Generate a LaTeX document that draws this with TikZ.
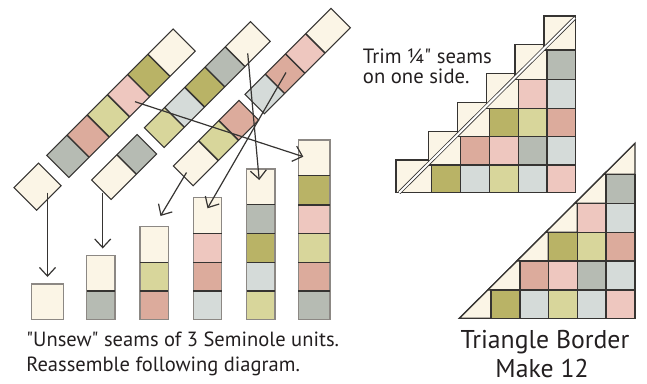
\documentclass[tikz,border=0pt]{standalone}
\usepackage{fontspec}
\setmainfont{PT Sans}[Ligatures=TeXOff]
\usetikzlibrary{arrows.meta}
\definecolor{qcream}{HTML}{FBF5E6}
\definecolor{qolive}{HTML}{B9B366}
\definecolor{qlolive}{HTML}{D8D69B}
\definecolor{qpink}{HTML}{EEC7BF}
\definecolor{qrose}{HTML}{DCAB9C}
\definecolor{qgray}{HTML}{B6BBB3}
\definecolor{qlbg}{HTML}{D5DBD9}
\definecolor{qink}{HTML}{363432}
\definecolor{qedge}{HTML}{8C8884}
\definecolor{qtext}{HTML}{231F20}
\newcommand\qq[3]{(#1,0) -- (#2,0) -- (#2,#3) -- (#1,#3) -- cycle}
\tikzset{
  along/.style={x={(0.5303pt,0.5303pt)},y={(0.5303pt,-0.5303pt)}},
  stripline/.style={draw=qink,line width=0.8pt,line join=miter},
  divline/.style={draw=qink,line width=1.1pt},
  colline/.style={draw=qedge,line width=1.1pt},
  gridcell/.style={draw=qink,line width=1pt},
  arr/.style={draw=qink,line width=0.9pt,-{Straight Barb[length=6.5pt,width=12pt]}},
  txt/.style={inner sep=0pt,anchor=base west,text=qtext},
  txtc/.style={inner sep=0pt,anchor=base,text=qtext},
}
\begin{document}
\begin{tikzpicture}[x=0.75pt,y=-0.75pt]
\useasboundingbox (0,0) rectangle (647,383);

% ---------- diagonal strips ----------
% strip 1 (six units)
\begin{scope}[shift={(46.7,155.3)}]\begin{scope}[along]
\fill[qgray] \qq{0}{28.6}{31.3};
\fill[qrose] \qq{28.6}{57.2}{31.3};
\fill[qlolive] \qq{57.2}{85.8}{31.3};
\fill[qpink] \qq{85.8}{114.4}{31.3};
\fill[qolive] \qq{114.4}{143}{31.3};
\fill[qcream] \qq{143}{178.7}{31.3};
\draw[stripline] \qq{0}{178.7}{31.3};
\foreach \a in {28.6,57.2,85.8,114.4,143} \draw[divline] (\a,0) -- (\a,31.3);
\end{scope}\end{scope}
% strip 2 (five units)
\begin{scope}[shift={(144.3,127.7)}]\begin{scope}[along]
\fill[qlolive] \qq{0}{28.6}{28};
\fill[qlbg] \qq{28.6}{57.2}{28};
\fill[qolive] \qq{57.2}{85.8}{28};
\fill[qgray] \qq{85.8}{114.4}{28};
\fill[qcream] \qq{114.4}{150.1}{28};
\draw[stripline] \qq{0}{150.1}{28};
\foreach \a in {28.6,57.2,85.8,114.4} \draw[divline] (\a,0) -- (\a,28);
\end{scope}\end{scope}
% strip 3 (three units)
\begin{scope}[shift={(173.3,166)}]\begin{scope}[along]
\fill[qcream] \qq{0}{35.7}{28};
\fill[qlolive] \qq{35.7}{64.3}{28};
\fill[qrose] \qq{64.3}{92.9}{28};
\draw[stripline] \qq{0}{92.9}{28};
\foreach \a in {35.7,64.3} \draw[divline] (\a,0) -- (\a,28);
\end{scope}\end{scope}
% strip 4 (four units)
\begin{scope}[shift={(245,94.3)}]\begin{scope}[along]
\fill[qlbg] \qq{0}{28.6}{27.5};
\fill[qrose] \qq{28.6}{57.2}{27.5};
\fill[qpink] \qq{57.2}{85.8}{27.5};
\fill[qcream] \qq{85.8}{121.5}{27.5};
\draw[stripline] \qq{0}{121.5}{27.5};
\foreach \a in {28.6,57.2,85.8} \draw[divline] (\a,0) -- (\a,27.5);
\end{scope}\end{scope}
% strip 5 (two units)
\begin{scope}[shift={(91.7,180)}]\begin{scope}[along]
\fill[qcream] \qq{0}{35.7}{27.5};
\fill[qgray] \qq{35.7}{64.3}{27.5};
\draw[stripline] \qq{0}{64.3}{27.5};
\draw[divline] (35.7,0) -- (35.7,27.5);
\end{scope}\end{scope}
% strip 6 (one unit)
\begin{scope}[shift={(14,187.5)}]\begin{scope}[along]
\fill[qcream] \qq{0}{34.5}{32};
\draw[stripline] \qq{0}{34.5}{32};
\end{scope}\end{scope}

% ---------- columns ----------
% C1
\fill[qcream] (31.7,284) rectangle (63.3,319.3);
\draw[colline] (31.7,284) rectangle (63.3,319.3);
% C2
\fill[qcream] (86.7,255.7) rectangle (115,291);
\fill[qgray] (86.7,291) rectangle (115,319.3);
\draw[colline] (86.7,255.7) rectangle (115,319.3);
\draw[divline] (86.7,291) -- (115,291);
% C3
\fill[qcream] (140,226.7) rectangle (168.3,262.3);
\fill[qlolive] (140,262.3) rectangle (168.3,291);
\fill[qrose] (140,291) rectangle (168.3,319.3);
\draw[colline] (140,226.7) rectangle (168.3,319.3);
\foreach \b in {262.3,291} \draw[divline] (140,\b) -- (168.3,\b);
% C4
\fill[qcream] (193.3,197.7) rectangle (221.7,233.3);
\fill[qpink] (193.3,233.3) rectangle (221.7,262.3);
\fill[qrose] (193.3,262.3) rectangle (221.7,291);
\fill[qlbg] (193.3,291) rectangle (221.7,319.3);
\draw[colline] (193.3,197.7) rectangle (221.7,319.3);
\foreach \b in {233.3,262.3,291} \draw[divline] (193.3,\b) -- (221.7,\b);
% C5
\fill[qcream] (246.7,169) rectangle (275,204.5);
\fill[qgray] (246.7,204.5) rectangle (275,233.3);
\fill[qolive] (246.7,233.3) rectangle (275,262.3);
\fill[qlbg] (246.7,262.3) rectangle (275,291);
\fill[qlolive] (246.7,291) rectangle (275,319.3);
\draw[colline] (246.7,169) rectangle (275,319.3);
\foreach \b in {204.5,233.3,262.3,291} \draw[divline] (246.7,\b) -- (275,\b);
% C6
\fill[qcream] (298.3,140) rectangle (330,175.7);
\fill[qolive] (298.3,175.7) rectangle (330,204.8);
\fill[qpink] (298.3,204.8) rectangle (330,233.3);
\fill[qlolive] (298.3,233.3) rectangle (330,262.3);
\fill[qrose] (298.3,262.3) rectangle (330,291);
\fill[qgray] (298.3,291) rectangle (330,319.3);
\draw[colline] (298.3,140) rectangle (330,319.3);
\foreach \b in {175.7,204.8,233.3,262.3,291} \draw[divline] (298.3,\b) -- (330,\b);

% ---------- arrows ----------
\coordinate (a1s) at (47.5,192.5);  \coordinate (a1e) at (47.5,277);
\coordinate (a2s) at (102.7,192.5); \coordinate (a2e) at (102.7,248.5);
\coordinate (a3s) at (186.5,172.5); \coordinate (a3e) at (160.5,216);
\coordinate (a4s) at (286,72.5);    \coordinate (a4e) at (207.5,208.3);
\coordinate (a5s) at (247.7,53.3);  \coordinate (a5e) at (259.2,180);
\coordinate (a6s) at (135,101.7);   \coordinate (a6e) at (303.3,156.7);
\draw[arr] (a1s) -- (a1e);
\draw[arr] (a2s) -- (a2e);
\draw[arr] (a3s) -- (a3e);
\draw[arr] (a4s) -- (a4e);
\draw[arr] (a5s) -- (a5e);
\draw[arr] (a6s) -- (a6e);

% ---------- upper triangle (before trimming) ----------
\foreach \x/\y/\X/\Y in {396/160/431.7/192.7, 428.3/131.7/460.7/165, 457.3/102.7/489.3/136.7, 486.7/73.3/518.3/108.3, 515/44.3/547/79.3, 544/16/575.7/50}
  \filldraw[fill=qcream,draw=qink,line width=0.8pt] (\x,\y) rectangle (\X,\Y);
\foreach \x/\X/\c in {431.7/460.7/qolive, 460.7/489.3/qlbg, 489.3/518.3/qlolive, 518.3/547/qlbg, 547/575.7/qpink}
  \filldraw[gridcell,fill=\c] (\x,165) rectangle (\X,192.7);
\foreach \x/\X/\c in {460.7/489.3/qrose, 489.3/518.3/qpink, 518.3/547/qgray, 547/575.7/qlbg}
  \filldraw[gridcell,fill=\c] (\x,136.7) rectangle (\X,165);
\foreach \x/\X/\c in {489.3/518.3/qolive, 518.3/547/qlolive, 547/575.7/qrose}
  \filldraw[gridcell,fill=\c] (\x,108.3) rectangle (\X,136.7);
\foreach \x/\X/\c in {518.3/547/qpink, 547/575.7/qlbg}
  \filldraw[gridcell,fill=\c] (\x,79.3) rectangle (\X,108.3);
\filldraw[gridcell,fill=qgray] (547,50) rectangle (575.7,79.3);
\coordinate (cutA) at (399.2,192.7);
\coordinate (cutB) at (574.8,18);
\draw[draw=qink,line width=0.6pt,double=white,double distance=1.5pt] (cutA) -- (cutB);

% ---------- lower triangle (finished border) ----------
\coordinate (hA) at (459.3,318.3);
\coordinate (hB) at (635,143.3);
\fill[qcream] (hA) -- (635,318.3) -- (hB) -- cycle;
\foreach \a/\b/\X/\h in {459.3/318.3/491/286.73, 487.71/290/520/257.84, 516.83/261/548.3/229.65, 545.64/232.3/577.3/200.77, 574.76/203.3/606/172.18, 603.88/174.3/635/143.3}
  \draw[gridcell,fill=qcream] (\a,\b) -- (\X,\b) -- (\X,\h) -- cycle;
\foreach \x/\X/\c in {491/520/qolive, 520/548.3/qlbg, 548.3/577.3/qlolive, 577.3/606/qlbg, 606/635/qpink}
  \filldraw[gridcell,fill=\c] (\x,290) rectangle (\X,318.3);
\foreach \x/\X/\c in {520/548.3/qrose, 548.3/577.3/qpink, 577.3/606/qgray, 606/635/qlbg}
  \filldraw[gridcell,fill=\c] (\x,261) rectangle (\X,290);
\foreach \x/\X/\c in {548.3/577.3/qolive, 577.3/606/qlolive, 606/635/qrose}
  \filldraw[gridcell,fill=\c] (\x,232.3) rectangle (\X,261);
\foreach \x/\X/\c in {577.3/606/qpink, 606/635/qlbg}
  \filldraw[gridcell,fill=\c] (\x,203.3) rectangle (\X,232.3);
\filldraw[gridcell,fill=qgray] (606,174.3) rectangle (635,203.3);
\draw[draw=qink,line width=0.6pt] (hA) -- (hB);

% ---------- texts ----------
\node[txt,font=\fontsize{15.5}{18}\selectfont] (trim1) at (362.7,63.3) {Trim ¼" seams};
\node[txt,font=\fontsize{15.5}{18}\selectfont] (trim2) at (362.7,83) {on one side.};
\node[txt,font=\fontsize{15.4}{18}\selectfont] (uns1) at (26,346.7) {"Unsew" seams of 3 Seminole units.};
\node[txt,font=\fontsize{15.4}{18}\selectfont] (uns2) at (26,371.7) {Reassemble following diagram.};
\node[txtc,font=\fontsize{19.3}{20}\selectfont] (tb1) at (545,348.5) {Triangle Border};
\node[txtc,font=\fontsize{19.3}{20}\selectfont] (tb2) at (542,377.5) {Make 12};
\end{tikzpicture}
\end{document}
